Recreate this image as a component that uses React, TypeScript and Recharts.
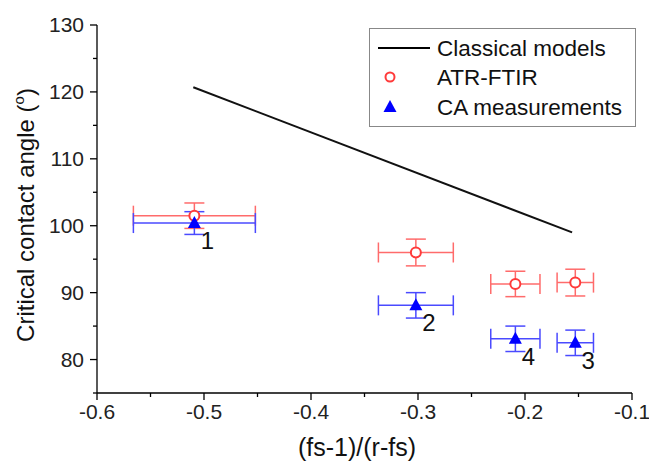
import {
  ErrorBar,
  Legend,
  Scatter,
  ScatterChart,
  XAxis,
  YAxis,
} from "recharts";

// sample numbers 1..4 and their x = (fs-1)/(r-fs)
const sampleLabels = ["1", "2", "3", "4"];
const sampleX = [-0.509, -0.302, -0.153, -0.209];
const sampleXErr = [0.057, 0.035, 0.017, 0.023];

const atrAngle = [101.5, 96.0, 91.5, 91.3];
const atrAngleErr = [1.9, 2.0, 2.0, 1.9];

const caAngle = [100.4, 88.1, 82.5, 83.1];
const caAngleErr = [1.7, 1.9, 1.9, 1.9];

const classicalX = [-0.51, -0.156];
const classicalAngle = [120.7, 99.0];

const xTicks = [-0.6, -0.55, -0.5, -0.45, -0.4, -0.35, -0.3, -0.25, -0.2, -0.15, -0.1];
const xMajor = ["-0.6", "-0.5", "-0.4", "-0.3", "-0.2", "-0.1"];
const yTicks = [75, 80, 85, 90, 95, 100, 105, 110, 115, 120, 125, 130];
const yMajor = ["80", "90", "100", "110", "120", "130"];

const FONT = '"Liberation Sans", Arial, sans-serif';
const RED = "#ff3b3b";
const BLUE = "#0000ff";

const atrData = sampleX.map((x, i) => ({
  x,
  y: atrAngle[i],
  ex: sampleXErr[i],
  ey: atrAngleErr[i],
}));
const caData = sampleX.map((x, i) => ({
  x,
  y: caAngle[i],
  ex: sampleXErr[i],
  ey: caAngleErr[i],
  label: sampleLabels[i],
}));
const classicalData = classicalX.map((x, i) => ({ x, y: classicalAngle[i] }));

const fmtX = (v: number) => {
  const s = v.toFixed(1);
  return xMajor.includes(s) && Math.abs(v * 10 - Math.round(v * 10)) < 1e-6 ? s : "";
};
const fmtY = (v: number) => (yMajor.includes(String(v)) ? String(v) : "");

function XTick(props: any) {
  const { x, y, payload } = props;
  const text = fmtX(payload.value);
  const len = text ? 7 : 4;
  return (
    <g>
      <line x1={x} y1={y} x2={x} y2={y + len} stroke="#000" strokeWidth={1.3} />
      {text && (
        <text x={x} y={y + 26} textAnchor="middle" fontSize={21} fontFamily={FONT} fill="#222">
          {text}
        </text>
      )}
    </g>
  );
}

function YTick(props: any) {
  const { x, y, payload } = props;
  const text = fmtY(payload.value);
  const len = text ? 7 : 4;
  return (
    <g>
      <line x1={x} y1={y} x2={x - len} y2={y} stroke="#000" strokeWidth={1.3} />
      {text && (
        <text x={x - 13} y={y + 7} textAnchor="end" fontSize={21} fontFamily={FONT} fill="#222">
          {text}
        </text>
      )}
    </g>
  );
}

const YTitle = () => (
  <text
    transform="translate(34,215) rotate(-90)"
    textAnchor="middle"
    fontSize={24}
    fontFamily={FONT}
    fill="#111"
  >
    Critical contact angle (
    <tspan fontSize={15} dy={-10}>
      o
    </tspan>
    <tspan dy={10}>)</tspan>
  </text>
);

const XTitle = () => (
  <text x={357} y={456} textAnchor="middle" fontSize={25} fontFamily={FONT} fill="#111">
    (fs-1)/(r-fs)
  </text>
);

const Circle = (props: any) => {
  const { cx, cy } = props;
  return <circle cx={cx} cy={cy} r={5} fill="#fff" stroke={RED} strokeWidth={2} />;
};

const Triangle = (props: any) => {
  const { cx, cy, payload } = props;
  return (
    <g>
      <polygon
        points={`${cx},${cy - 7} ${cx - 6.5},${cy + 5} ${cx + 6.5},${cy + 5}`}
        fill={BLUE}
      />
      <text x={cx + 13} y={cy + 26} textAnchor="middle" fontSize={24} fontFamily={FONT} fill="#111">
        {payload.label}
      </text>
    </g>
  );
};

const LegendBox = () => (
  <div
    style={{
      width: 267,
      height: 99,
      boxSizing: "border-box",
      border: "1px solid #888",
      background: "#fff",
      position: "relative",
    }}
  >
    <svg width={265} height={97} style={{ position: "absolute", left: 0, top: 0 }}>
      <line x1={8} y1={19} x2={60} y2={19} stroke="#000" strokeWidth={2} />
      <circle cx={20} cy={48} r={4.5} fill="#fff" stroke={RED} strokeWidth={2} />
      <polygon points="20,71 13.5,83 26.5,83" fill={BLUE} />
      <text x={67} y={27} fontSize={22.5} fontFamily={FONT} fill="#111">
        Classical models
      </text>
      <text x={67} y={56} fontSize={22.5} fontFamily={FONT} fill="#111">
        ATR-FTIR
      </text>
      <text x={67} y={86} fontSize={22.5} fontFamily={FONT} fill="#111">
        CA measurements
      </text>
    </svg>
  </div>
);

export default function App() {
  return (
    <div style={{ position: "absolute", left: 0, top: 0, background: "#fff" }}>
      <ScatterChart
        width={649}
        height={466}
        margin={{ top: 25, right: 17, bottom: 0, left: 0 }}
      >
        <XAxis
          type="number"
          dataKey="x"
          domain={[-0.6, -0.1]}
          ticks={xTicks}
          interval={0}
          height={73}
          tickSize={0}
          tickMargin={0}
          tickLine={false}
          tick={<XTick />}
          axisLine={{ stroke: "#000", strokeWidth: 1.3 }}
          allowDataOverflow
          label={<XTitle />}
        />
        <YAxis
          type="number"
          dataKey="y"
          domain={[75, 130]}
          ticks={yTicks}
          interval={0}
          width={97}
          tickSize={0}
          tickMargin={0}
          tickLine={false}
          tick={<YTick />}
          axisLine={{ stroke: "#000", strokeWidth: 1.3 }}
          allowDataOverflow
          label={<YTitle />}
        />
        <Legend
          layout="vertical"
          align="center"
          verticalAlign="middle"
          content={<LegendBox />}
          wrapperStyle={{ position: "absolute", left: 369, top: 28, width: 267, height: 99 }}
        />
        <Scatter
          name="Classical models"
          data={classicalData}
          line={{ stroke: "#111", strokeWidth: 2 }}
          shape={() => null}
          isAnimationActive={false}
        />
        <Scatter name="ATR-FTIR" data={atrData} shape={<Circle />} isAnimationActive={false}>
          <ErrorBar dataKey="ex" direction="x" width={10} stroke="#ff6b6b" strokeWidth={1.5} />
          <ErrorBar dataKey="ey" direction="y" width={10} stroke="#ff6b6b" strokeWidth={1.5} />
        </Scatter>
        <Scatter name="CA measurements" data={caData} shape={<Triangle />} isAnimationActive={false}>
          <ErrorBar dataKey="ex" direction="x" width={10} stroke="#4a4aff" strokeWidth={1.5} />
          <ErrorBar dataKey="ey" direction="y" width={10} stroke="#4a4aff" strokeWidth={1.5} />
        </Scatter>
      </ScatterChart>
    </div>
  );
}
